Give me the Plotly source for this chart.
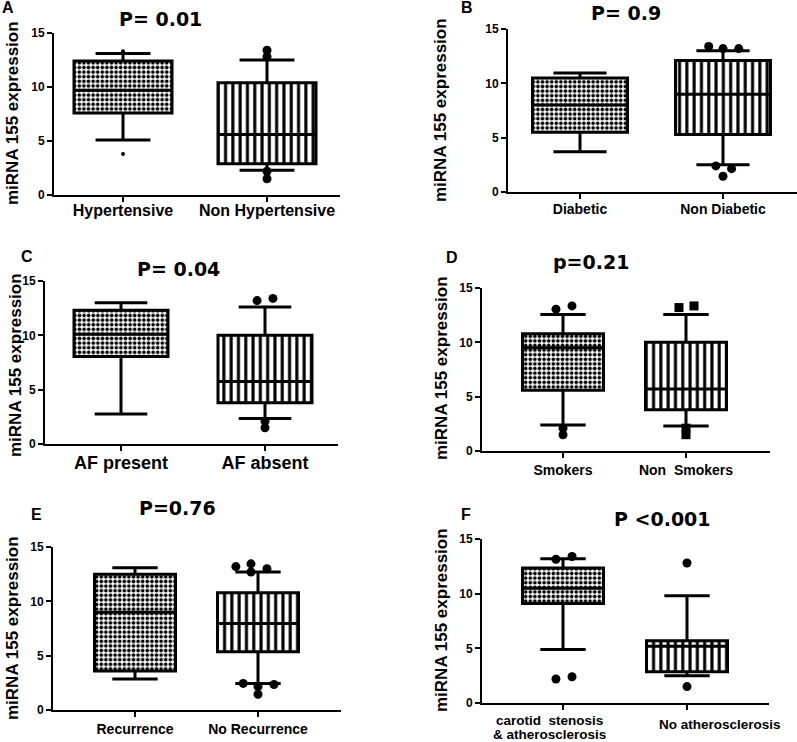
import plotly.graph_objects as go

# ---------------- DATA ----------------
A_labels = ["Hypertensive", "Non Hypertensive"]
A_q1 = [7.6, 2.9]
A_median = [9.7, 5.6]
A_q3 = [12.4, 10.4]
A_low = [5.1, 2.3]
A_high = [13.1, 12.5]
A_out_group = [0, 0, 1, 1, 1, 1]
A_out_y = [3.8, 13.3, 13.4, 12.8, 2.2, 1.5]

B_labels = ["Diabetic", "Non Diabetic"]
B_q1 = [5.5, 5.3]
B_median = [8.0, 9.0]
B_q3 = [10.5, 12.1]
B_low = [3.7, 2.5]
B_high = [10.95, 13.0]
B_out_group = [1, 1, 1, 1, 1, 1]
B_out_y = [13.4, 13.2, 13.2, 2.4, 2.15, 1.45]

C_labels = ["AF present", "AF absent"]
C_q1 = [8.05, 3.8]
C_median = [10.1, 5.75]
C_q3 = [12.3, 10.0]
C_low = [2.75, 2.35]
C_high = [13.0, 12.6]
C_out_group = [1, 1, 1, 1]
C_out_y = [13.2, 13.4, 2.1, 1.5]

D_labels = ["Smokers", "Non  Smokers"]
D_q1 = [5.6, 3.8]
D_median = [9.5, 5.7]
D_q3 = [10.8, 10.0]
D_low = [2.4, 2.3]
D_high = [12.55, 12.55]
D_out_group = [0, 0, 0, 0, 1, 1, 1, 1]
D_out_y = [13.05, 13.35, 2.1, 1.5, 13.2, 13.35, 2.1, 1.5]

E_labels = ["Recurrence", "No Recurrence"]
E_q1 = [3.6, 5.35]
E_median = [9.0, 7.95]
E_q3 = [12.5, 10.8]
E_low = [2.85, 2.45]
E_high = [13.1, 12.7]
E_out_group = [1, 1, 1, 1, 1, 1, 1, 1]
E_out_y = [13.2, 13.45, 12.7, 13.0, 2.45, 2.15, 2.35, 1.45]

F_labels = ["carotid\u00a0 stenosis", "& atherosclerosis", "No atherosclerosis"]
F_q1 = [9.1, 2.85]
F_median = [10.5, 5.2]
F_q3 = [12.35, 5.7]
F_low = [4.9, 2.5]
F_high = [13.2, 9.8]
F_out_group = [0, 0, 0, 0, 1, 1]
F_out_y = [13.15, 13.4, 2.2, 2.4, 12.8, 1.5]

p_titles = ["P= 0.01", "P= 0.9", "P= 0.04", "p=0.21", "P=0.76", "P <0.001"]
panel_letters = ["A", "B", "C", "D", "E", "F"]
y_title = "miRNA 155 expression"
y_ticks = [0, 5, 10, 15]

# ---------------- STYLE / LAYOUT ----------------
W, H = 797, 742
FONT = "Liberation Sans, Arial, sans-serif"
WIDE = "DejaVu Sans, Verdana, sans-serif"

A_out_dx = [0, 0, 0, 0, 0, 0]
A_out_size = [4, 4, 9, 9, 9, 9]
B_out_dx = [-0.1, 0, 0.11, -0.05, 0.06, 0]
C_out_dx = [-0.055, 0.055, 0, 0]
D_out_dx = [-0.057, 0.073, 0, 0, -0.057, 0.065, 0, 0]
D_out_symbol = ["circle"] * 4 + ["square"] * 4
E_out_dx = [-0.18, -0.057, -0.057, 0.073, -0.12, 0, 0.13, 0]
F_out_dx = [-0.057, 0.073, -0.057, 0.073, 0, 0]

panels = [
    dict(labels=A_labels, q1=A_q1, med=A_median, q3=A_q3, low=A_low, high=A_high,
         og=A_out_group, oy=A_out_y, odx=A_out_dx, osize=A_out_size, osym=None,
         px=(54, 340, 123, 267, 195, 33), bw=98, tfs=16, lso=-5,
         title_xy=(160, 19), letter_xy=(8, 8), ytitle_xy=(12, 113)),
    dict(labels=B_labels, q1=B_q1, med=B_median, q3=B_q3, low=B_low, high=B_high,
         og=B_out_group, oy=B_out_y, odx=B_out_dx, osize=None, osym=None,
         px=(508, 797, 580, 723, 192, 29), bw=95, tfs=14, lso=-2,
         title_xy=(626, 13), letter_xy=(467, 8), ytitle_xy=(440, 110)),
    dict(labels=C_labels, q1=C_q1, med=C_median, q3=C_q3, low=C_low, high=C_high,
         og=C_out_group, oy=C_out_y, odx=C_out_dx, osize=None, osym=None,
         px=(45, 338, 121, 265, 444, 281), bw=94, tfs=18, lso=-4,
         title_xy=(178, 269), letter_xy=(27, 256), ytitle_xy=(15, 365)),
    dict(labels=D_labels, q1=D_q1, med=D_median, q3=D_q3, low=D_low, high=D_high,
         og=D_out_group, oy=D_out_y, odx=D_out_dx, osize=None, osym=D_out_symbol,
         px=(482, 770, 563, 686, 451, 288), bw=81, tfs=14, lso=0,
         title_xy=(591, 262), letter_xy=(452, 257), ytitle_xy=(441, 368)),
    dict(labels=E_labels, q1=E_q1, med=E_median, q3=E_q3, low=E_low, high=E_high,
         og=E_out_group, oy=E_out_y, odx=E_out_dx, osize=None, osym=None,
         px=(53, 341, 135, 258, 710, 547), bw=81, tfs=14, lso=0,
         title_xy=(177, 508), letter_xy=(36, 514), ytitle_xy=(12, 628)),
    dict(labels=None, q1=F_q1, med=F_median, q3=F_q3, low=F_low, high=F_high,
         og=F_out_group, oy=F_out_y, odx=F_out_dx, osize=None, osym=None,
         px=(482, 769, 563, 687, 703, 539), bw=81, tfs=14, lso=0,
         title_xy=(662, 519), letter_xy=(466, 514), ytitle_xy=(441, 620)),
]

fig = go.Figure()
annotations = []
layout_axes = {}

for i, p in enumerate(panels):
    n = i + 1
    xa = "x" if n == 1 else f"x{n}"
    ya = "y" if n == 1 else f"y{n}"
    x0, x1, t0, t1, py0, py15 = p["px"]
    unit = t1 - t0
    w = p["bw"] / unit

    fig.add_trace(go.Bar(
        x=[0, 1], base=p["q1"], y=[b - a for a, b in zip(p["q1"], p["q3"])],
        width=w, xaxis=xa, yaxis=ya, hoverinfo="skip", showlegend=False,
        marker=dict(color="white", line=dict(width=0),
                    pattern=dict(shape=[".", "|"], size=[4.6, 7.3], solidity=[0.5, 0.42],
                                 fgcolor="black", bgcolor="white", fillmode="replace")),
    ))
    fig.add_trace(go.Box(
        x=[0, 1], q1=p["q1"], median=p["med"], q3=p["q3"],
        lowerfence=p["low"], upperfence=p["high"],
        width=w, whiskerwidth=0.56, boxpoints=False,
        fillcolor="rgba(0,0,0,0)", line=dict(color="black", width=3),
        xaxis=xa, yaxis=ya, hoverinfo="skip", showlegend=False,
    ))
    ox = [g + d for g, d in zip(p["og"], p["odx"])]
    fig.add_trace(go.Scatter(
        x=ox, y=p["oy"], mode="markers", xaxis=xa, yaxis=ya,
        marker=dict(color="black", opacity=1, size=p["osize"] if p["osize"] else 9,
                    symbol=p["osym"] if p["osym"] else "circle", line=dict(width=0)),
        cliponaxis=False, hoverinfo="skip", showlegend=False,
    ))

    xr = [-(t0 - x0) / unit, 1 + (x1 - t1) / unit]
    common = dict(showline=True, linewidth=2, linecolor="black", ticks="outside",
                  ticklen=5, tickwidth=2, tickcolor="black", showgrid=False,
                  zeroline=False, fixedrange=True, automargin=False)
    if p["labels"] is not None:
        ticktext = [f"<b>{t}</b>" for t in p["labels"]]
    else:
        ticktext = ["", ""]
    layout_axes["xaxis" if n == 1 else f"xaxis{n}"] = dict(
        domain=[x0 / W, x1 / W], range=xr, anchor=ya,
        tickmode="array", tickvals=[0, 1], ticktext=ticktext, ticklabelstandoff=p["lso"],
        tickfont=dict(family=FONT, size=p["tfs"], color="black"), **common)
    layout_axes["yaxis" if n == 1 else f"yaxis{n}"] = dict(
        domain=[1 - py0 / H, 1 - py15 / H], range=[0, 15], anchor=xa,
        tickmode="array", tickvals=y_ticks, ticktext=[f"<b>{v}</b>" for v in y_ticks],
        tickfont=dict(family=FONT, size=12, color="black"), **common)

    tx, ty = p["title_xy"]
    annotations.append(dict(text=f"<b>{p_titles[i]}</b>", x=tx / W, y=1 - ty / H,
                            xref="paper", yref="paper", showarrow=False,
                            xanchor="center", yanchor="middle",
                            font=dict(family=WIDE, size=19, color="black")))
    lx, ly = p["letter_xy"]
    annotations.append(dict(text=f"<b>{panel_letters[i]}</b>", x=lx / W, y=1 - ly / H,
                            xref="paper", yref="paper", showarrow=False,
                            xanchor="center", yanchor="middle", borderpad=0,
                            font=dict(family=FONT, size=16, color="black")))
    yx, yy = p["ytitle_xy"]
    annotations.append(dict(text=f"<b>{y_title}</b>", x=yx / W, y=1 - yy / H,
                            xref="paper", yref="paper", showarrow=False,
                            xanchor="center", yanchor="middle", textangle=-90,
                            font=dict(family=FONT, size=17, color="black")))

# Panel F category labels (two-line label placed as in the reference)
F_label_xy = [(549, 720), (549, 734), (720, 724)]
for t, (lx, ly) in zip(F_labels, F_label_xy):
    annotations.append(dict(text=f"<b>{t}</b>", x=lx / W, y=1 - ly / H, xref="paper", yref="paper",
                            showarrow=False, xanchor="center", yanchor="middle", borderpad=0,
                            font=dict(family=FONT, size=13.5, color="black")))

fig.update_layout(
    width=W, height=H, margin=dict(l=0, r=0, t=0, b=0, pad=0, autoexpand=False),
    paper_bgcolor="white", plot_bgcolor="white",
    showlegend=False, annotations=annotations, **layout_axes,
)

fig.write_html("out.html", config={"displayModeBar": False},
               post_script="document.body.style.margin='0px';document.body.style.padding='0px';")
